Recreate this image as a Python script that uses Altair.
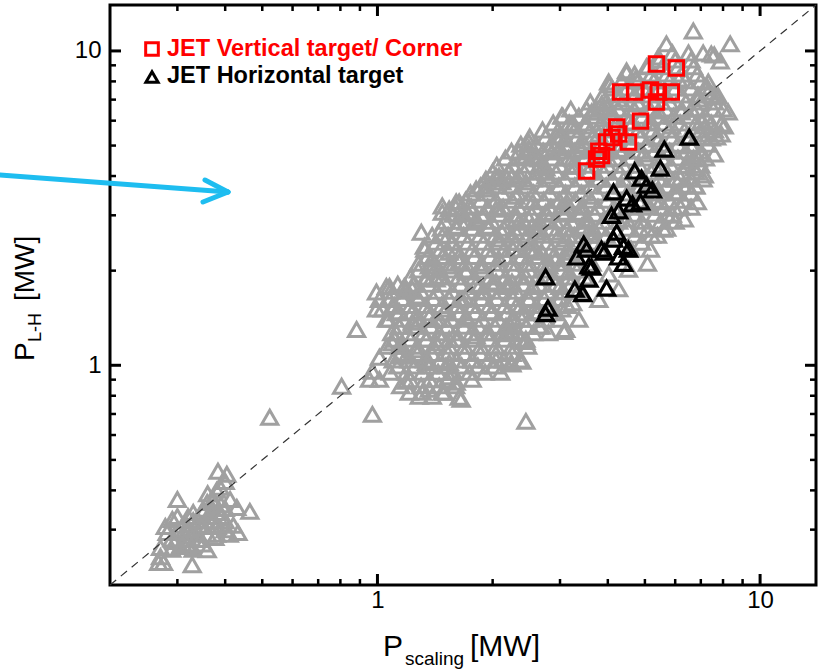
import altair as alt
import pandas as pd

# ---------------- data ----------------
# individually read grey triangles (edges and isolated points)
grey_x = [
    0.383, 0.404, 0.400, 0.388, 0.300, 0.291, 0.279, 0.320, 0.359, 0.372, 0.429, 0.464, 0.432,
    0.271, 0.268, 0.276, 0.328, 0.296, 0.318, 0.338, 0.359, 0.376, 0.400, 0.344, 0.365, 0.388,
    0.330, 0.311, 0.350, 0.381, 0.412, 0.344, 0.324, 0.305, 0.271, 0.282,
    0.31, 0.33, 0.35, 0.37, 0.39, 0.34, 0.36, 0.38, 0.32, 0.35, 0.37, 0.39, 0.36, 0.38, 0.33,
    0.30, 0.29, 0.40, 0.41, 0.42,
    0.30, 0.32, 0.34, 0.36, 0.38, 0.31, 0.33, 0.35, 0.40, 0.37, 0.29,
    0.523, 0.806, 0.970, 0.882, 2.443, 3.069, 1.012, 0.970, 1.012, 0.953, 1.190, 1.211, 1.286,
    1.366, 1.391, 1.477, 1.606, 1.635, 1.768, 1.568, 1.768, 2.041, 2.247, 2.385, 2.443, 2.207,
    1.540, 1.366, 1.190, 1.094, 1.055, 1.141, 1.310, 1.495, 1.655, 1.540, 1.342, 1.141, 2.234,
    2.414, 2.247, 0.994, 1.075, 1.055, 0.994, 1.190, 1.263, 1.302, 1.326, 1.477, 1.366, 1.450,
    1.635, 1.540, 1.424, 1.121, 1.233, 1.366, 1.513, 1.665, 1.844, 2.041, 2.247, 2.488, 2.595,
    2.385, 2.168, 1.957, 1.811, 1.606, 1.424, 1.263, 3.032, 3.032, 3.162, 2.925, 2.690, 2.488,
    2.301, 2.116, 1.957, 1.811, 1.665, 1.540, 1.477, 2.488, 2.755, 3.032, 3.418, 3.630, 3.418,
    3.162, 2.925, 2.595, 2.301, 2.041, 1.736, 1.606,
    1.568, 1.391, 1.342, 1.075, 1.176, 1.233, 1.030, 1.012, 1.094, 1.477, 1.635, 1.811, 1.922,
    2.078, 2.116, 2.247, 2.343, 2.488, 2.533, 2.642, 2.856, 3.032, 3.220, 3.106, 2.925, 3.630,
    2.755, 2.443, 2.301, 2.078, 1.877, 1.705, 1.606, 2.978, 3.298, 3.418, 2.078, 2.301, 2.533,
    2.805, 3.106, 3.418, 3.565, 3.630, 3.106, 2.533, 2.078, 1.877, 1.705, 1.540, 1.450, 1.635,
    1.877, 2.168, 2.443, 2.805, 3.106, 3.501, 2.301, 1.993, 1.705, 1.450, 1.263, 1.141, 3.106,
    2.642, 2.443, 2.168, 1.540, 1.342, 1.141,
    6.691, 5.691, 8.353, 7.455, 7.867, 5.424, 5.109, 4.477, 4.020, 4.726, 6.116, 7.321, 7.321,
    7.774, 6.895, 6.611, 8.010, 7.914, 7.321, 3.258, 3.854, 3.674, 3.501, 2.978, 3.106, 2.805,
    2.443, 2.642, 2.207, 2.041, 1.922, 2.247, 2.755, 3.220, 3.357, 4.093, 4.531, 5.201, 5.865,
    6.227, 6.611, 6.895, 6.378, 6.006, 6.772, 6.116, 7.191, 7.590, 7.278, 7.681, 8.254, 8.058,
    7.455, 7.021, 7.590, 7.021, 6.455, 6.854, 6.340, 5.170, 6.190, 5.970, 5.490, 5.725, 6.455,
    7.148, 3.972, 4.477, 4.044, 2.996, 2.488, 2.343, 2.181, 2.755, 3.239, 3.439, 3.125, 2.822,
    2.548, 2.343, 2.658, 3.125, 3.522, 3.674, 3.181, 2.822, 2.443, 2.261, 2.996, 2.548, 2.207,
    3.239, 2.261, 4.870, 4.477, 5.392, 5.078, 5.970, 6.731, 7.914,
    4.27, 4.81, 5.42, 4.27, 4.96, 5.42, 3.90, 3.79, 4.02, 4.40, 3.79, 3.674, 4.81, 5.42, 5.11,
    5.59, 4.53, 4.02, 3.79, 3.36, 4.27,
]
grey_y = [
    0.460, 0.450, 0.427, 0.409, 0.374, 0.323, 0.307, 0.330, 0.366, 0.374, 0.353, 0.343, 0.294,
    0.263, 0.236, 0.236, 0.232, 0.275, 0.269, 0.279, 0.259, 0.283, 0.300, 0.307, 0.330, 0.340,
    0.294, 0.294, 0.348, 0.307, 0.374, 0.279, 0.265, 0.265, 0.246, 0.294,
    0.31, 0.32, 0.31, 0.32, 0.33, 0.29, 0.29, 0.29, 0.28, 0.34, 0.35, 0.36, 0.39, 0.40, 0.34,
    0.30, 0.28, 0.32, 0.29, 0.31,
    0.33, 0.30, 0.32, 0.31, 0.31, 0.27, 0.26, 0.27, 0.35, 0.37, 0.26,
    0.683, 0.857, 0.698, 1.30, 0.663, 1.28, 1.06, 0.957, 0.902, 0.902, 0.889, 0.820, 0.797,
    0.839, 0.797, 0.820, 0.883, 0.791, 0.902, 0.950, 1.04, 1.04, 1.01, 1.03, 1.19, 1.26,
    1.02, 1.02, 1.07, 1.18, 1.40, 1.48, 0.820, 0.820, 0.779, 0.92, 1.02, 1.07, 1.02,
    1.19, 1.27, 1.51, 1.62, 1.78, 1.71, 1.75, 1.66, 2.65, 2.39, 2.58, 2.07, 2.02,
    2.13, 2.29, 1.88, 1.27, 1.37, 1.43, 1.51, 1.62, 1.78, 1.84, 1.84, 1.62, 1.48,
    1.40, 1.33, 1.27, 1.24, 1.21, 1.18, 1.12, 1.51, 1.71, 1.98, 2.18, 2.29, 2.34,
    2.46, 2.65, 2.77, 2.92, 3.07, 3.14, 3.07, 2.92, 3.07, 3.21, 3.07, 2.65, 2.77,
    2.58, 2.65, 2.65, 2.92, 3.14, 3.21, 3.31,
    2.46, 2.18, 1.88, 1.78, 1.78, 1.75, 1.51, 1.62, 1.54, 3.21, 3.31, 3.64, 3.64,
    4.00, 3.83, 4.00, 4.77, 5.13, 4.63, 4.30, 4.77, 6.21, 5.77, 5.25, 5.36, 6.39,
    4.00, 3.83, 3.45, 3.14, 2.98, 2.85, 2.77, 3.72, 4.30, 4.87, 2.52, 2.65, 2.77,
    2.92, 3.07, 3.21, 3.45, 2.77, 2.52, 2.34, 2.18, 2.07, 1.98, 2.07, 1.92, 1.62,
    1.71, 1.78, 1.92, 2.07, 2.22, 2.39, 1.54, 1.48, 1.43, 1.40, 1.40, 1.33, 1.30,
    1.33, 1.21, 1.27, 1.21, 1.21, 1.15,
    11.58, 10.53, 10.53, 9.78, 9.29, 9.57, 8.96, 8.64, 7.97, 8.14, 8.14, 7.97, 7.40,
    7.19, 7.03, 6.54, 6.54, 5.85, 5.44, 5.85, 6.78, 6.39, 5.77, 5.36, 4.98, 4.87,
    4.63, 4.53, 4.12, 4.00, 3.72, 3.72, 4.12, 4.30, 4.98, 6.39, 5.94, 5.94, 5.77,
    6.39, 4.98, 4.53, 4.30, 3.91, 3.72, 3.56, 5.77, 9.71, 7.68, 7.14, 6.39, 5.77,
    5.28, 5.98, 4.70, 4.70, 4.46, 3.31, 2.92, 2.34, 3.94, 3.56, 3.31, 3.00, 3.74,
    4.03, 6.63, 8.51, 7.79, 4.91, 4.91, 4.03, 3.94, 4.24, 4.56, 5.17, 3.31, 3.16,
    3.31, 2.85, 2.71, 2.71, 2.92, 2.59, 2.29, 2.11, 2.11, 2.34, 1.78, 1.78, 1.78,
    1.58, 1.42, 2.71, 2.92, 2.59, 2.11, 3.16, 4.24, 5.44,
    7.03, 6.78, 6.44, 4.87, 4.70, 5.25, 6.07, 5.44, 4.53, 3.91, 3.91, 4.53, 3.64, 3.64, 3.25,
    2.71, 2.02, 1.95, 1.62, 1.40, 1.75,
]
# grey triangles inside the solid core of the band, read row by row (P_L-H level, P_scaling values)
grey_core_rows = [
    (0.86, [1.15, 1.30, 1.45, 1.60]),
    (0.90, [1.22, 1.37, 1.52]),
    (0.95, [1.08, 1.19, 1.31, 1.44, 1.58, 1.74, 1.91, 2.1]),
    (0.995, [1.13, 1.25, 1.37, 1.51, 1.66, 1.83, 2.02]),
    (1.04, [1.10, 1.21, 1.33, 1.46, 1.61, 1.77, 1.95, 2.14, 2.35]),
    (1.09, [1.15, 1.27, 1.39, 1.53, 1.69, 1.86, 2.04, 2.25]),
    (1.15, [1.06, 1.16, 1.27, 1.40, 1.54, 1.69, 1.86, 2.04, 2.25, 2.47]),
    (1.21, [1.11, 1.22, 1.34, 1.47, 1.62, 1.78, 1.96, 2.15, 2.36]),
    (1.27, [1.09, 1.20, 1.32, 1.45, 1.60, 1.76, 1.93, 2.12, 2.33, 2.56, 2.80]),
    (1.33, [1.14, 1.26, 1.38, 1.52, 1.68, 1.84, 2.03, 2.23, 2.45, 2.68]),
    (1.40, [1.07, 1.17, 1.29, 1.42, 1.56, 1.71, 1.88, 2.07, 2.27, 2.50, 2.74, 3.0]),
    (1.47, [1.12, 1.23, 1.35, 1.49, 1.64, 1.80, 1.98, 2.18, 2.39, 2.63, 2.88]),
    (1.55, [1.11, 1.22, 1.34, 1.47, 1.62, 1.78, 1.96, 2.15, 2.37, 2.60, 2.86, 3.14]),
    (1.63, [1.16, 1.28, 1.40, 1.54, 1.70, 1.87, 2.05, 2.26, 2.48, 2.73, 3.0]),
    (1.72, [1.08, 1.18, 1.30, 1.43, 1.57, 1.73, 1.90, 2.09, 2.30, 2.53, 2.78, 3.06, 3.35]),
    (1.81, [1.13, 1.24, 1.36, 1.50, 1.65, 1.81, 1.99, 2.19, 2.41, 2.65, 2.92, 3.2]),
    (1.91, [1.22, 1.34, 1.48, 1.63, 1.79, 1.97, 2.16, 2.38, 2.62, 2.88, 3.17, 3.48]),
    (2.01, [1.28, 1.41, 1.55, 1.70, 1.87, 2.06, 2.27, 2.49, 2.74, 3.02, 3.32]),
    (2.11, [1.28, 1.41, 1.55, 1.70, 1.87, 2.06, 2.26, 2.49, 2.74, 3.01, 3.31, 3.64]),
    (2.22, [1.35, 1.48, 1.63, 1.79, 1.97, 2.16, 2.38, 2.62, 2.88, 3.17, 3.48]),
    (2.34, [1.33, 1.46, 1.61, 1.77, 1.95, 2.14, 2.36, 2.59, 2.85, 3.14, 3.45, 3.80, 4.6]),
    (2.46, [1.42, 1.56, 1.72, 1.89, 2.08, 2.29, 2.52, 2.77, 3.05, 3.35, 3.7, 4.9]),
    (2.59, [1.39, 1.53, 1.68, 1.85, 2.03, 2.24, 2.46, 2.71, 2.98, 3.27, 3.60, 3.96, 4.7, 5.2]),
    (2.73, [1.47, 1.61, 1.77, 1.95, 2.14, 2.36, 2.59, 2.85, 3.14, 3.45, 3.8, 4.5, 5.1, 5.7]),
    (2.87, [1.50, 1.65, 1.81, 1.99, 2.19, 2.41, 2.65, 2.92, 3.21, 3.53, 3.88, 4.27, 4.9, 5.5, 6.0]),
    (3.02, [1.58, 1.73, 1.90, 2.09, 2.30, 2.53, 2.78, 3.06, 3.37, 3.70, 4.05, 4.7, 5.3, 5.9]),
    (3.18, [1.60, 1.76, 1.94, 2.13, 2.34, 2.58, 2.84, 3.12, 3.43, 3.77, 4.15, 4.6, 5.1, 5.6, 6.2, 6.6]),
    (3.35, [1.70, 1.86, 2.04, 2.25, 2.47, 2.72, 2.99, 3.29, 3.62, 3.98, 4.8, 5.3, 5.8, 6.3]),
    (3.53, [1.75, 1.93, 2.12, 2.33, 2.56, 2.82, 3.10, 3.41, 3.75, 4.12, 4.5, 4.95, 5.45, 6.0, 6.6]),
    (3.72, [1.86, 2.04, 2.24, 2.46, 2.71, 2.98, 3.28, 3.60, 3.96, 4.35, 4.78, 5.2, 5.7, 6.3, 6.8]),
    (3.91, [1.92, 2.11, 2.32, 2.55, 2.81, 3.09, 3.40, 3.74, 4.11, 4.52, 4.98, 5.45, 6.0, 6.6, 7.1]),
    (4.12, [2.0, 2.2, 2.42, 2.66, 2.93, 3.22, 3.55, 3.90, 4.3, 4.73, 5.2, 5.7, 6.3, 6.8]),
    (4.33, [2.05, 2.26, 2.48, 2.73, 3.00, 3.30, 3.63, 4.0, 4.4, 4.84, 5.3, 5.85, 6.45, 7.0]),
    (4.56, [2.16, 2.38, 2.61, 2.87, 3.16, 3.48, 3.83, 4.2, 4.6, 5.05, 5.55, 6.1, 6.7, 7.2]),
    (4.80, [2.24, 2.46, 2.71, 2.98, 3.28, 3.61, 3.97, 4.37, 4.8, 5.3, 5.8, 6.4, 7.0]),
    (5.05, [2.37, 2.60, 2.86, 3.15, 3.47, 3.82, 4.2, 4.6, 5.05, 5.55, 6.1, 6.7, 7.3]),
    (5.32, [2.50, 2.75, 3.02, 3.32, 3.65, 4.02, 4.42, 4.86, 5.35, 5.88, 6.47, 7.1, 7.7]),
    (5.60, [2.70, 2.97, 3.27, 3.6, 3.96, 4.35, 4.8, 5.25, 5.8, 6.35, 7.0, 7.6]),
    (5.90, [2.88, 3.17, 3.49, 3.84, 4.22, 4.64, 5.11, 5.62, 6.18, 6.8, 7.45]),
    (6.20, [3.05, 3.36, 3.7, 4.07, 4.47, 4.92, 5.4, 5.95, 6.55, 7.2]),
    (6.53, [3.20, 3.52, 3.87, 4.26, 4.69, 5.16, 5.67, 6.24, 6.86, 7.55]),
    (6.88, [3.6, 3.96, 4.36, 4.8, 5.27, 5.8, 6.4, 7.0, 7.6]),
    (7.24, [3.88, 4.27, 4.70, 5.17, 5.68, 6.25, 6.88, 7.5]),
    (7.62, [4.1, 4.5, 4.95, 5.45, 6.0, 6.6, 7.2]),
    (8.03, [4.35, 4.79, 5.27, 5.80, 6.38, 7.0]),
    (8.45, [4.7, 5.2, 5.7, 6.25, 6.85]),
    (8.90, [5.05, 5.55, 6.1, 6.7]),
    (9.36, [5.45, 6.0, 6.6]),
    (9.85, [5.9, 6.5, 7.1]),
]
black_x = [6.53, 5.62, 5.49, 4.70, 4.90, 5.23, 5.05, 4.14, 4.48, 4.87, 4.64, 4.09, 4.27, 4.22,
           4.14, 4.40, 3.52, 3.46, 3.92, 3.32, 3.57, 4.40, 4.27, 2.75, 3.57, 3.97, 3.44, 3.28,
           2.79, 2.75, 3.85, 4.53, 3.63]
black_y = [5.32, 4.87, 4.24, 4.15, 3.94, 3.61, 3.74, 3.56, 3.40, 3.31, 3.26, 3.00, 3.10, 2.65,
           2.52, 2.39, 2.34, 2.43, 2.29, 2.21, 2.07, 2.11, 2.21, 1.91, 1.88, 1.76, 1.69, 1.745,
           1.52, 1.46, 2.34, 2.34, 2.05]
red_x = [5.36, 6.04, 4.32, 4.70, 5.17, 5.42, 5.86, 5.36, 4.87, 4.22, 4.27, 4.53, 3.97, 3.79,
         3.74, 3.52, 4.10, 3.85]
red_y = [9.09, 8.83, 7.40, 7.40, 7.51, 7.40, 7.40, 6.88, 5.98, 5.73, 5.44, 5.13, 5.13, 4.80,
         4.53, 4.15, 5.30, 4.65]

minor_ticks = [0.3, 0.4, 0.5, 0.6, 0.7, 0.8, 0.9, 2, 3, 4, 5, 6, 7, 8, 9]
major_ticks = [1, 10]
tick_labels = [1, 10]
diag_ends = [0.2, 14]
axis_domain = [0.2, 14]
legend_labels = ["JET Vertical target/ Corner", "JET Horizontal target"]
x_title_parts = ["P", "scaling", "[MW]"]
y_title_parts = ["P", "L-H", "[MW]"]

# ---------------- styling ----------------
W, H = 706, 580
FONT = "Liberation Sans"
GREY = "#a0a0a0"
RED = "#ff0000"
CYAN = "#1ebdf0"

xs = alt.Scale(type="log", domain=axis_domain, nice=False)
ys = alt.Scale(type="log", domain=axis_domain, nice=False)

X_AX = alt.Axis(values=tick_labels, format="d", ticks=False, domain=False, grid=False,
                labelFont=FONT, labelFontSize=24, labelColor="black", labelPadding=3,
                labelFlush=False)
Y_AX = alt.Axis(values=tick_labels, format="d", ticks=False, domain=False, grid=False,
                labelFont=FONT, labelFontSize=24, labelColor="black", labelPadding=9,
                labelFlush=False)


def X(field):
    return alt.X(field, type="quantitative", scale=xs, axis=X_AX, title=None)


def Y(field):
    return alt.Y(field, type="quantitative", scale=ys, axis=Y_AX, title=None)


core_x = [x for _, row in grey_core_rows for x in row]
core_y = [y for y, row in grey_core_rows for _ in row]
grey_df = pd.DataFrame({"x": grey_x + core_x, "y": grey_y + core_y})
black_df = pd.DataFrame({"x": black_x, "y": black_y})
red_df = pd.DataFrame({"x": red_x, "y": red_y})
diag_df = pd.DataFrame({"x": diag_ends, "y": diag_ends})

grey_pts = alt.Chart(grey_df).mark_point(
    shape="triangle-up", filled=False, size=260, strokeWidth=3, color=GREY, opacity=1
).encode(x=X("x"), y=Y("y"))

diag = alt.Chart(diag_df).mark_line(
    color="#333333", strokeWidth=1.2, strokeDash=[8, 6]
).encode(x=X("x"), y=Y("y"))

black_pts = alt.Chart(black_df).mark_point(
    shape="triangle-up", filled=False, size=260, strokeWidth=3.2, color="black", opacity=1
).encode(x=X("x"), y=Y("y"))

red_pts = alt.Chart(red_df).mark_point(
    shape="square", filled=False, size=210, strokeWidth=3, color=RED, opacity=1
).encode(x=X("x"), y=Y("y"))


def xtick_layer(vals, y0, y1, sw):
    return alt.Chart(pd.DataFrame({"v": vals})).mark_rule(color="black", strokeWidth=sw).encode(
        x=X("v"), y=alt.value(y0), y2=alt.value(y1))


def ytick_layer(vals, x0, x1, sw):
    return alt.Chart(pd.DataFrame({"v": vals})).mark_rule(color="black", strokeWidth=sw).encode(
        y=Y("v"), x=alt.value(x0), x2=alt.value(x1))


ticks = [
    xtick_layer(minor_ticks, H, H - 6, 2.5),
    xtick_layer(major_ticks, H, H - 11, 3),
    xtick_layer(minor_ticks, 0, 6, 2.5),
    xtick_layer(major_ticks, 0, 11, 3),
    ytick_layer(minor_ticks, 0, 6, 2.5),
    ytick_layer(major_ticks, 0, 11, 3),
    ytick_layer(minor_ticks, W, W - 6, 2.5),
    ytick_layer(major_ticks, W, W - 11, 3),
]


def label(txt, x, y, size, color="black", weight="normal", angle=0, baseline="alphabetic"):
    kw = dict(align="left", baseline=baseline, font=FONT, fontSize=size, color=color,
              fontWeight=weight)
    if angle:
        kw["angle"] = angle
    return alt.Chart(pd.DataFrame({"t": [txt]})).mark_text(**kw).encode(
        x=alt.value(x), y=alt.value(y), text="t:N")


texts = [
    # x axis title
    label(x_title_parts[0], 273, 651, 30),
    label(x_title_parts[1], 295, 660, 19),
    label(x_title_parts[2], 360, 651, 30),
    # y axis title (rotated)
    label(y_title_parts[0], -76, 356, 28, angle=270),
    label(y_title_parts[1], -69, 337, 18, angle=270),
    label(y_title_parts[2], -76, 296, 28, angle=270),
    # legend
    label(legend_labels[0], 57, 44, 23.5, color=RED, weight="bold", baseline="middle"),
    label(legend_labels[1], 57, 71, 23.5, color="black", weight="bold", baseline="middle"),
]

one = pd.DataFrame({"k": [0]})
legend_marks = [
    alt.Chart(one).mark_point(shape="square", filled=False, size=160, strokeWidth=3,
                              color=RED, opacity=1).encode(x=alt.value(42), y=alt.value(44)),
    alt.Chart(one).mark_point(shape="triangle-up", filled=False, size=150, strokeWidth=3,
                              color="black", opacity=1).encode(x=alt.value(42), y=alt.value(72)),
]

arrow = [
    alt.Chart(one).mark_rule(color=CYAN, strokeWidth=5, strokeCap="round").encode(
        x=alt.value(-110), y=alt.value(170), x2=alt.value(118), y2=alt.value(187)),
    alt.Chart(one).mark_rule(color=CYAN, strokeWidth=5, strokeCap="round").encode(
        x=alt.value(95), y=alt.value(175), x2=alt.value(118), y2=alt.value(187)),
    alt.Chart(one).mark_rule(color=CYAN, strokeWidth=5, strokeCap="round").encode(
        x=alt.value(93), y=alt.value(197), x2=alt.value(118), y2=alt.value(187)),
]

chart = alt.layer(
    grey_pts, diag, black_pts, red_pts, *ticks, *texts, *legend_marks, *arrow
).properties(
    width=W, height=H,
    autosize=alt.AutoSizeParams(type="none"),
    padding={"left": 110, "top": 5, "right": 9, "bottom": 86},
).configure(
    background="white",
    view=alt.ViewConfig(stroke="black", strokeWidth=3),
)

chart.save("out.html", embed_options={"renderer": "svg", "actions": False})
